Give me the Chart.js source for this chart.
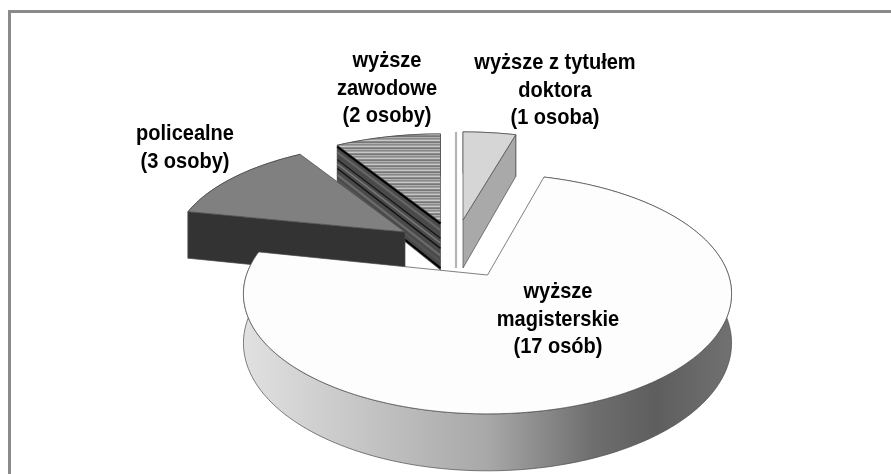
<!DOCTYPE html>
<html><head><meta charset="utf-8">
<script src="https://cdn.jsdelivr.net/npm/chart.js@4"></script>
<style>
html,body{margin:0;padding:0;background:#fff;overflow:hidden}
#frame{position:absolute;left:8px;top:10px;width:883px;height:464px;border-left:3px solid #8a8a8a;border-top:3px solid #8a8a8a;box-sizing:border-box}
canvas{position:absolute;left:0;top:0;filter:blur(0.45px)}
</style></head><body>
<div id="frame"></div>
<canvas id="c" width="891" height="474"></canvas>
<script>
const categories = ['wyższe z tytułem doktora', 'wyższe magisterskie', 'policealne', 'wyższe zawodowe', ''];
const persons = [1, 17, 3, 2, 0];
const labelLines = [
  ['wyższe z tytułem', 'doktora', '(1 osoba)'],
  ['wyższe', 'magisterskie', '(17 osób)'],
  ['policealne', '(3 osoby)'],
  ['wyższe', 'zawodowe', '(2 osoby)'],
  []
];
const labelCentres = [[555, 69], [558, 298], [185, 140], [387, 67], [0, 0]];
const topColours = ['#d6d6d6', '#fdfdfd', '#808080', 'stripes', '#ffffff'];
const sideColours = ['#a9a9a9', 'gradient', '#333333', 'stripes', '#b4b4b4'];
const explodeX = [17.5, 42, -40.5, -5, 10.5];
const explodeY = [-17, 38, -5, -15, -17];
const scaleX = [0.95, 1.017, 0.965, 0.95, 0.95];
const scaleY = [0.43, 0.494, 0.435, 0.43, 0.43];
const paintOrder = [3, 4, 0, 2, 1];
const perspective = 0.157, depth = 48;

function stripePattern(ctx) {
  const p = document.createElement('canvas'); p.width = 2; p.height = 6;
  const g = p.getContext('2d');
  const rows = ['#8a8a8a', '#a0a0a0', '#c8c8c8', '#8a8a8a', '#777777', '#b0b0b0'];
  rows.forEach((c, i) => { g.fillStyle = c; g.fillRect(0, i, 2, 1); });
  return ctx.createPattern(p, 'repeat');
}

function drawSlice(ctx, el, i) {
  const R = el.outerRadius * scaleX[i], Ry = el.outerRadius * scaleY[i];
  const cx = el.x + explodeX[i], cy = el.y + explodeY[i];
  const pt = (a, f, drop) => {
    const th = a + Math.PI / 2, u = f * Math.sin(th), v = -f * Math.cos(th), w = 1 - perspective * v;
    return [cx + R * u / w, cy + Ry * v / w + drop / w];
  };
  const arcPts = (drop) => {
    const n = Math.max(1, Math.ceil((el.endAngle - el.startAngle) / 0.02)), out = [];
    for (let k = 0; k <= n; k++) out.push(pt(el.startAngle + (el.endAngle - el.startAngle) * k / n, 1, drop));
    return out;
  };
  const poly = (pts) => { ctx.beginPath(); pts.forEach((p, k) => k ? ctx.lineTo(p[0], p[1]) : ctx.moveTo(p[0], p[1])); ctx.closePath(); };
  ctx.lineWidth = 0.7; ctx.strokeStyle = '#4a4a4a'; ctx.lineJoin = 'round';

  if (el.endAngle - el.startAngle < 1e-6) {
    const b = pt(el.startAngle, 1, 0), d = pt(el.startAngle, 0, depth);
    ctx.strokeStyle = sideColours[i]; ctx.lineWidth = 2.2;
    ctx.beginPath(); ctx.moveTo(b[0], b[1]); ctx.lineTo(d[0], d[1]); ctx.stroke();
    return;
  }
  let sideFill = sideColours[i];
  if (sideFill === 'gradient') {
    const g = ctx.createLinearGradient(cx - R, 0, cx + R, 0);
    g.addColorStop(0, '#e0e0e0'); g.addColorStop(0.5, '#a8a8a8'); g.addColorStop(0.72, '#6e6e6e');
    g.addColorStop(0.85, '#5e5e5e'); g.addColorStop(1, '#707070');
    sideFill = g;
  }
  if (sideFill === 'stripes') sideFill = '#4a4a4a';
  const top = arcPts(0), bot = arcPts(depth);
  poly(top.concat(bot.slice().reverse())); ctx.fillStyle = sideFill; ctx.fill(); ctx.stroke();
  const facing = (a, sign) => sign * Math.sin(a + Math.PI / 2) > 1e-3;
  [[el.startAngle, -1], [el.endAngle, 1]].forEach(([a, sign]) => {
    if (!facing(a, sign)) return;
    poly([pt(a, 0, 0), pt(a, 1, 0), pt(a, 1, depth), pt(a, 0, depth)]);
    ctx.fillStyle = sideFill; ctx.fill(); ctx.stroke();
    if (sideColours[i] === 'stripes') {
      [[0.03, '#000', 2.4], [0.17, '#666', 2], [0.34, '#111', 1.2], [0.44, '#777', 1.5], [0.55, '#111', 1.4],
       [0.7, '#6a6a6a', 2.4], [0.83, '#555', 2], [0.96, '#000', 2]].forEach(([f, c, lw]) => {
        const p = pt(a, 0, depth * f), q = pt(a, 1, depth * f);
        ctx.beginPath(); ctx.moveTo(p[0], p[1]); ctx.lineTo(q[0], q[1]);
        ctx.strokeStyle = c; ctx.lineWidth = lw; ctx.stroke();
      });
      ctx.lineWidth = 0.7; ctx.strokeStyle = '#4a4a4a';
    }
  });
  poly([pt(el.startAngle, 0, 0)].concat(top));
  let f = topColours[i];
  if (f === 'stripes') f = stripePattern(ctx);
  ctx.fillStyle = f; ctx.fill(); ctx.stroke();
}

class Pie3DController extends Chart.PieController {
  static id = 'pie3d';
  draw() {
    const meta = this._cachedMeta, ctx = this.chart.ctx;
    ctx.save();
    paintOrder.forEach((i) => drawSlice(ctx, meta.data[i], i));
    ctx.restore();
  }
}
Chart.register(Pie3DController);

const sliceLabels = {
  id: 'sliceLabels',
  afterDatasetsDraw(chart) {
    const ctx = chart.ctx;
    ctx.save();
    ctx.font = 'bold 22px "Liberation Sans", Arial, sans-serif';
    ctx.fillStyle = '#000'; ctx.textAlign = 'center'; ctx.textBaseline = 'alphabetic';
    labelLines.forEach((lines, i) => lines.forEach((t, k) => {
      ctx.save();
      ctx.translate(labelCentres[i][0], labelCentres[i][1] + k * 27.5);
      ctx.scale(0.91, 1);
      ctx.fillText(t, 0, 0);
      ctx.restore();
    }));
    ctx.restore();
  }
};

new Chart(document.getElementById('c'), {
  type: 'pie3d',
  data: { labels: categories, datasets: [{ data: persons, borderWidth: 0 }] },
  options: {
    responsive: false, animation: false,
    plugins: { legend: { display: false }, tooltip: { enabled: false } },
    layout: { padding: 0 }
  },
  plugins: [sliceLabels]
});
</script>
</body></html>
